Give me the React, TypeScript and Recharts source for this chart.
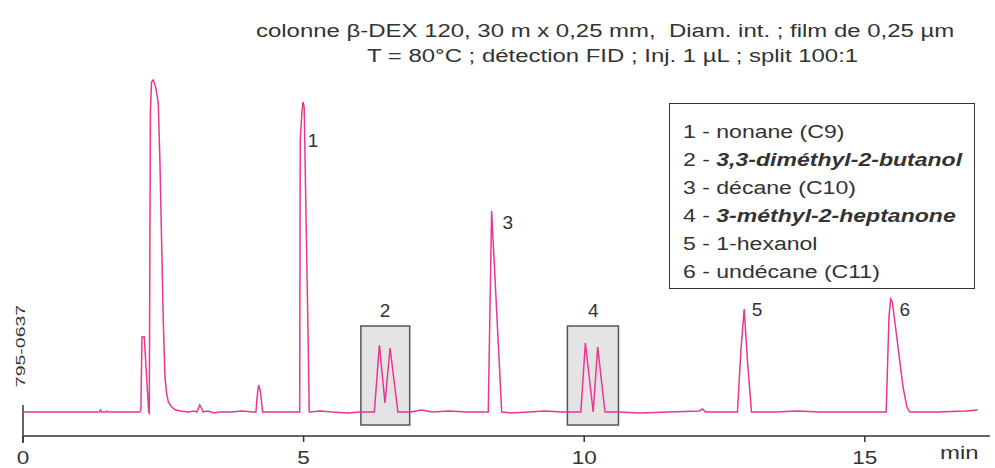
import { LineChart, Line, XAxis, YAxis, ReferenceArea, ReferenceDot, ReferenceLine } from 'recharts';

// retention time (min) and detector signal (arbitrary units, baseline = 0)
const times = [
  0, 1.0, 1.36, 1.38, 1.4, 1.48, 1.5, 1.52, 2.08, 2.1,
  2.12, 2.16, 2.24, 2.25,
  2.27, 2.29, 2.32, 2.36, 2.41, 2.44, 2.47, 2.5, 2.53, 2.56, 2.59, 2.65, 2.72, 2.8, 2.95, 3.05, 3.1,
  3.13, 3.15, 3.18, 3.21, 3.3, 3.4, 3.5, 3.7, 3.9, 4.1, 4.15,
  4.18, 4.2, 4.23, 4.27, 4.6, 4.93,
  4.94, 4.97, 4.99, 5.01, 5.08, 5.1,
  5.3, 5.5, 5.8, 6.0, 6.26,
  6.35, 6.45, 6.54, 6.68,
  6.9, 7.1, 7.3, 7.6, 7.9, 8.29,
  8.35, 8.53,
  8.7, 9.0, 9.3, 9.6, 9.94,
  10.02, 10.16, 10.24, 10.37,
  10.6, 11.0, 11.5, 12.05, 12.11, 12.16, 12.5, 12.73,
  12.79, 12.85, 12.91, 12.98,
  13.4, 13.8, 14.2, 14.8, 15.38,
  15.43, 15.46, 15.49, 15.58, 15.68, 15.75, 15.8,
  16.3, 16.8, 17.01,
];
const signal = [
  0, 0, 0, 2, 0, 0, 1, 0, 0, 2,
  75, 75, 0, -1,
  300, 330, 332, 326, 309, 250, 170, 90, 35, 18, 10, 5, 2, 1, 0, 1, 0,
  4, 7, 4, 0, 1, -1, 0, 0, 1, 0, 0,
  20, 27, 20, 0, 0, 0,
  272, 300, 310, 305, 75, 0,
  1, 0, -1, 0, 0,
  67, 9, 64, 0,
  0, 2, 0, 1, 0, 0,
  201, 0,
  -1, 0, 1, 0, 0,
  69, 0, 65, 0,
  0, -1, 0, 1, 3, 0, 0, 0,
  60, 103, 50, 0,
  0, 1, 0, 0, 0,
  95, 113, 110, 70, 25, 5, 0,
  0, 1, 2,
];

const peakNames = ['1', '2', '3', '4', '5', '6'];
const peakLabelT = [5.17, 6.45, 8.64, 10.16, 13.08, 15.71];
const peakLabelV = [272, 102, 190, 102, 103, 103];

// highlighted (chiral) peaks
const boxStart = [6.02, 9.7];
const boxEnd = [6.89, 10.61];
const boxLow = -13;
const boxHigh = 86;

const xTicks = [0, 5, 10, 15];

const legendItems = [
  { text: '1 - nonane (C9)' },
  { text: '2 - ', em: '3,3-diméthyl-2-butanol' },
  { text: '3 - décane (C10)' },
  { text: '4 - ', em: '3-méthyl-2-heptanone' },
  { text: '5 - 1-hexanol' },
  { text: '6 - undécane (C11)' },
];

const data = times.map((t, i) => ({ t, v: signal[i] }));

const FONT = '"Liberation Sans", Arial, sans-serif';
const INK = '#333';
const PINK = '#ea3594';
const WIDE = 'scaleX(1.33)';

const WideTick = (props: any) => {
  const { x, y, payload } = props;
  return (
    <g transform={`translate(${x},${y})`}>
      <text
        x={0}
        y={0}
        dy={20}
        textAnchor="middle"
        fontSize={18}
        fill={INK}
        fontFamily={FONT}
        transform="scale(1.25,1)"
      >
        {payload.value}
      </text>
    </g>
  );
};

export default function App() {
  return (
    <div style={{ position: 'absolute', left: 0, top: 0, width: 995, height: 468, fontFamily: FONT, color: INK, background: '#fff' }}>
      <div style={{ position: 'absolute', left: 256, top: 21, fontSize: 18, whiteSpace: 'pre', lineHeight: '20px', transform: WIDE, transformOrigin: 'left top' }}>
        colonne β-DEX 120, 30 m x 0,25 mm,  Diam. int. ; film de 0,25 µm
      </div>
      <div style={{ position: 'absolute', left: 367, top: 46, fontSize: 18, whiteSpace: 'pre', lineHeight: '20px', transform: WIDE, transformOrigin: 'left top' }}>
        T = 80°C ; détection FID ; Inj. 1 µL ; split 100:1
      </div>

      <LineChart width={995} height={468} data={data} margin={{ top: 76, right: 5, bottom: 0, left: 23 }}>
        <XAxis
          dataKey="t"
          type="number"
          domain={[0, 17.23]}
          ticks={xTicks}
          allowDataOverflow
          height={32}
          tickSize={6}
          tickMargin={2}
          stroke={INK}
          strokeWidth={1.5}
          tick={<WideTick />}
        />
        <YAxis hide domain={[-24, 336]} allowDataOverflow />
        {boxStart.map((x1, i) => (
          <ReferenceArea
            key={i}
            x1={x1}
            x2={boxEnd[i]}
            y1={boxLow}
            y2={boxHigh}
            fill="#e4e4e4"
            fillOpacity={1}
            stroke="#555"
            strokeWidth={1.5}
          />
        ))}
        <ReferenceLine
          segment={[{ x: 0, y: 7 }, { x: 0, y: -31 }]}
          stroke={INK}
          strokeWidth={1.5}
          ifOverflow="visible"
        />
        <Line type="linear" dataKey="v" stroke={PINK} strokeWidth={1.5} dot={false} isAnimationActive={false} />
        {peakNames.map((name, i) => (
          <ReferenceDot
            key={name}
            x={peakLabelT[i]}
            y={peakLabelV[i]}
            r={0}
            fill="none"
            stroke="none"
            label={{ value: name, position: 'center', fontSize: 19, fill: INK, fontFamily: FONT }}
          />
        ))}
      </LineChart>

      <div style={{ position: 'absolute', left: 940, top: 443, fontSize: 18, transform: WIDE, transformOrigin: 'left top' }}>min</div>
      <div
        style={{
          position: 'absolute',
          left: 20,
          top: 346,
          fontSize: 13,
          whiteSpace: 'nowrap',
          transform: 'translate(-50%, -50%) rotate(-90deg) scaleX(1.5)',
        }}
      >
        795-0637
      </div>

      <div
        style={{
          position: 'absolute',
          left: 669,
          top: 103,
          width: 306,
          height: 186,
          boxSizing: 'border-box',
          border: `1.5px solid ${INK}`,
          padding: '14px 0 0 13px',
          fontSize: 18,
          lineHeight: '28px',
          background: '#fff',
        }}
      >
        {legendItems.map((it, i) => (
          <div key={i} style={{ whiteSpace: 'pre', transform: 'scaleX(1.28)', transformOrigin: 'left center' }}>
            {it.text}
            {it.em && <b><i>{it.em}</i></b>}
          </div>
        ))}
      </div>
    </div>
  );
}
